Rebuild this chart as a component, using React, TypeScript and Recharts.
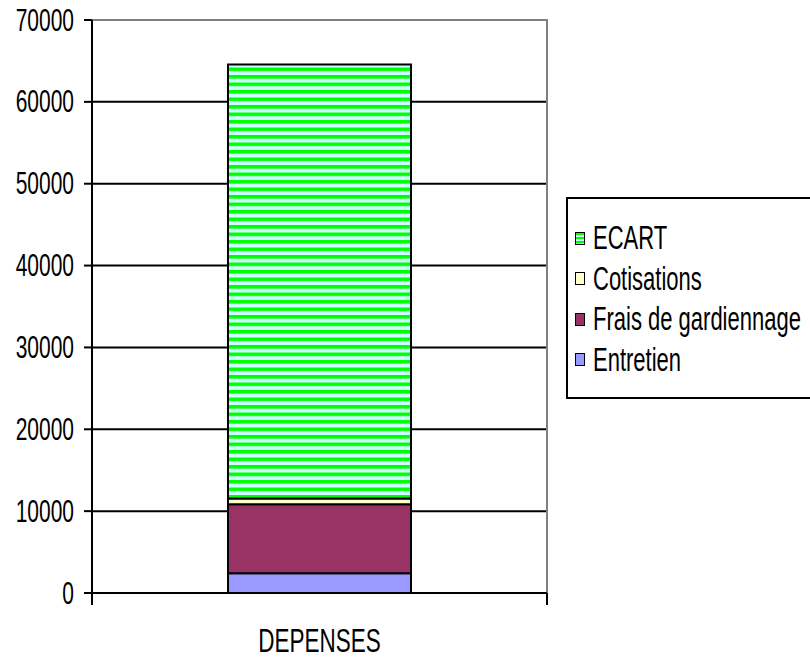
import React from 'react';
import {
  BarChart,
  Bar,
  XAxis,
  YAxis,
  CartesianGrid,
  Legend,
  ReferenceArea,
} from 'recharts';

// données
const categories = ['DEPENSES'];
const entretien = [2400];
const fraisGardiennage = [8450];
const cotisations = [700];
const ecart = [53000];
const yTicks = [0, 10000, 20000, 30000, 40000, 50000, 60000, 70000];
const legendOrder = ['ECART', 'Cotisations', 'Frais de gardiennage', 'Entretien'];

const data = categories.map((name, i) => ({
  name,
  Entretien: entretien[i],
  'Frais de gardiennage': fraisGardiennage[i],
  Cotisations: cotisations[i],
  ECART: ecart[i],
}));

const FONT = "'Liberation Sans', Arial, sans-serif";
const STRETCH = 1.5;

const markerStyles: Record<string, React.CSSProperties> = {
  ECART: {
    background: 'repeating-linear-gradient(to bottom, #00ff00 0px, #00ff00 2px, #ccffff 2px, #ccffff 4px)',
  },
  Cotisations: { background: '#ffffcc' },
  'Frais de gardiennage': { background: '#993366' },
  Entretien: { background: '#9999ff' },
};

const YTick = (props: any) => {
  const { x, y, payload } = props;
  return (
    <g transform={`translate(${x - 10},${y}) scale(1,${STRETCH})`}>
      <text x={0} y={0} textAnchor="end" dominantBaseline="central" fontSize={21} fontFamily={FONT} fill="#000">
        {payload.value}
      </text>
    </g>
  );
};

const XTick = (props: any) => {
  const { x, y, payload } = props;
  const half = payload.offset ?? 227.5;
  return (
    <g>
      <line x1={x - half} x2={x - half} y1={y} y2={y + 12} stroke="#000" strokeWidth={2} />
      <line x1={x + half} x2={x + half} y1={y} y2={y + 12} stroke="#000" strokeWidth={2} />
      <g transform={`translate(${x},${y + 47}) scale(1,${STRETCH})`}>
        <text x={0} y={0} textAnchor="middle" dominantBaseline="central" fontSize={22.5} fontFamily={FONT} fill="#000">
          {payload.value}
        </text>
      </g>
    </g>
  );
};

const renderLegend = (props: any) => {
  const byName: Record<string, any> = {};
  (props.payload || []).forEach((p: any) => {
    byName[p.value] = p;
  });
  const items = legendOrder.filter((n) => byName[n]);
  return (
    <div
      style={{
        border: '2px solid #000',
        background: '#fff',
        height: 202,
        boxSizing: 'border-box',
        paddingTop: 19,
        paddingLeft: 7,
        fontFamily: FONT,
      }}
    >
      {items.map((name) => (
        <div key={name} style={{ display: 'flex', alignItems: 'center', height: 40.5 }}>
          <span
            style={{
              display: 'inline-block',
              width: 10,
              height: 13,
              border: '1.5px solid #000',
              boxSizing: 'border-box',
              marginRight: 8,
              ...markerStyles[name],
            }}
          />
          <span
            style={{
              display: 'inline-block',
              fontSize: 22,
              color: '#000',
              transform: `scaleY(${STRETCH})`,
              whiteSpace: 'nowrap',
            }}
          >
            {name}
          </span>
        </div>
      ))}
    </div>
  );
};

export default function App() {
  return (
    <div style={{ position: 'absolute', left: 0, top: 0, width: 810, height: 665, background: '#fff' }}>
      <BarChart
        width={810}
        height={665}
        data={data}
        margin={{ top: 20, right: 263, bottom: 0, left: 0 }}
        barSize={183}
      >
        <defs>
          <pattern id="ecartStripes" patternUnits="userSpaceOnUse" width={10} height={7.5}>
            <rect x={0} y={0} width={10} height={7.5} fill="#ccffff" />
            <rect x={0} y={0} width={10} height={3.6} fill="#00ff00" />
          </pattern>
        </defs>
        <CartesianGrid vertical={false} stroke="#000" strokeWidth={2} />
        <ReferenceArea y1={0} y2={70000} fill="none" stroke="#808080" strokeWidth={2} ifOverflow="visible" />
        <XAxis
          dataKey="name"
          height={72}
          axisLine={{ stroke: '#000', strokeWidth: 2 }}
          tickLine={false}
          tickSize={0}
          tickMargin={0}
          tick={<XTick />}
          interval={0}
        />
        <YAxis
          width={92}
          domain={[0, 70000]}
          ticks={yTicks}
          axisLine={{ stroke: '#000', strokeWidth: 2 }}
          tickLine={{ stroke: '#000', strokeWidth: 2 }}
          tickSize={8}
          tickMargin={0}
          tick={<YTick />}
          interval={0}
        />
        <Legend
          layout="vertical"
          align="center"
          verticalAlign="middle"
          content={renderLegend}
          wrapperStyle={{ position: 'absolute', left: 566, top: 197, width: 260 }}
        />
        <Bar dataKey="Entretien" stackId="a" fill="#9999ff" stroke="#000" strokeWidth={2} isAnimationActive={false} />
        <Bar dataKey="Frais de gardiennage" stackId="a" fill="#993366" stroke="#000" strokeWidth={2} isAnimationActive={false} />
        <Bar dataKey="Cotisations" stackId="a" fill="#ffffcc" stroke="#000" strokeWidth={2} isAnimationActive={false} />
        <Bar dataKey="ECART" stackId="a" fill="url(#ecartStripes)" stroke="#000" strokeWidth={2} isAnimationActive={false} />
      </BarChart>
    </div>
  );
}
